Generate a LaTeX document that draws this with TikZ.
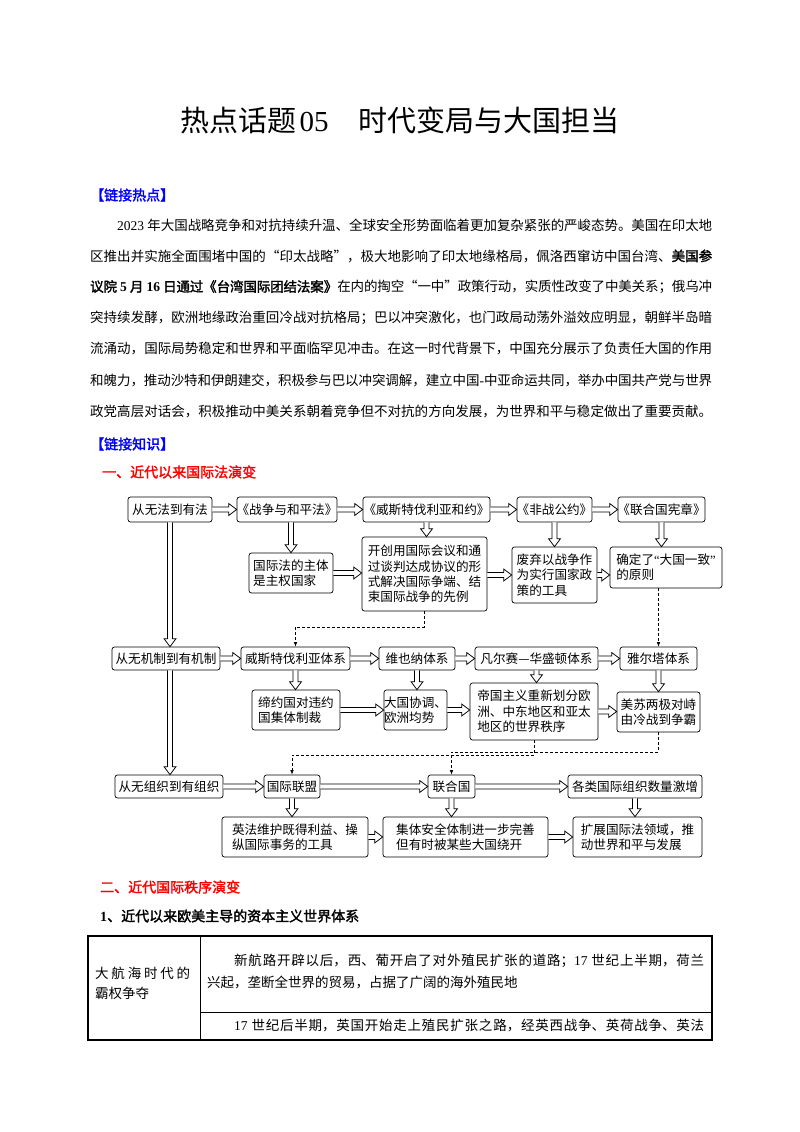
\documentclass[tikz,border=0pt]{standalone}
\usepackage{fontspec}
\setmainfont{Noto Sans CJK SC}[AutoFakeBold=2]
\newfontfamily\tnr{Liberation Serif}
\usetikzlibrary{arrows.meta,calc}
\XeTeXlinebreaklocale "zh"
\XeTeXlinebreakskip=0pt plus 3pt minus 0.5pt
\newcommand\lat[1]{{\tnr #1}}
\newcommand\jline[2]{\parbox{#1}{\parfillskip=0pt\relax #2}}
\newcommand\lbk{\makebox[0.6em][r]{《}}
\newcommand\rbk{\makebox[0.6em][l]{》}}
\newcommand\mybox[6]{\node[box, minimum width={(#3-#2)*1pt}, minimum height={(#5-#4)*1pt}] (#1) at ({(#2+#3)/2},{(#4+#5)/2}) {#6};}
% hollow block arrows between named nodes (right-pointing and downward)
\newcommand\arR[2]{\draw[blk] let \p1=(#1), \p2=(#2) in (\x1,\y1+2.6pt) -- (\x2-8pt,\y1+2.6pt) -- (\x2-8pt,\y1+6pt) -- (\x2,\y1) -- (\x2-8pt,\y1-6pt) -- (\x2-8pt,\y1-2.6pt) -- (\x1,\y1-2.6pt);}
\newcommand\arD[2]{\draw[blk] let \p1=(#1), \p2=(#2) in (\x1-2.6pt,\y1) -- (\x1-2.6pt,\y2+8pt) -- (\x1-6pt,\y2+8pt) -- (\x1,\y2) -- (\x1+6pt,\y2+8pt) -- (\x1+2.6pt,\y2+8pt) -- (\x1+2.6pt,\y1);}
\definecolor{hblue}{RGB}{0,0,255}
\definecolor{hred}{RGB}{255,0,0}
\begin{document}
\begin{tikzpicture}[x=1pt,y=-1pt,
  box/.style={draw, rounded corners=2.5pt, line width=0.7pt, align=left, inner sep=0pt, font=\fontsize{12.6}{15.3}\selectfont},
  blk/.style={draw, fill=white, line width=0.75pt, line join=miter},
  dsh/.style={line width=0.6pt, dash pattern=on 3pt off 2pt, -{Latex[length=4.5pt,width=3.5pt]}},
  txt/.style={anchor=west, inner sep=0pt, font=\fontsize{13.5}{16}\selectfont},
  head/.style={anchor=west, inner sep=0pt, font=\fontsize{14}{16}\selectfont\bfseries},
]
\fill[white] (0,0) rectangle (800,1132);
\useasboundingbox (0,0) rectangle (800,1132);

% title
\node[inner sep=0pt, font=\fontsize{29}{32}\selectfont] (title) at (400,120) {热点话题\hspace{3pt}\lat{05}\hspace{30pt}时代变局与大国担当};

\node[head, text=hblue] (h1) at (90,195) {【链接热点】};
\node[txt] (p1) at (117,225) {\jline{595pt}{\lat{2023 }年大国战略竞争和对抗持续升温、全球安全形势面临着更加复杂紧张的严峻态势。美国在印太地}};
\node[txt] (p2) at (90,256) {\jline{622pt}{区推出并实施全面围堵中国的“印太战略”，极大地影响了印太地缘格局，佩洛西窜访中国台湾、{\bfseries 美国参}}};
\node[txt] (p3) at (90,287) {\jline{622pt}{{\bfseries 议院\lat{ 5 }月\lat{ 16 }日通过《台湾国际团结法案》}在内的掏空“一中”政策行动，实质性改变了中美关系；俄乌冲}};
\node[txt] (p4) at (90,318) {\jline{622pt}{突持续发酵，欧洲地缘政治重回冷战对抗格局；巴以冲突激化，也门政局动荡外溢效应明显，朝鲜半岛暗}};
\node[txt] (p5) at (90,349) {\jline{622pt}{流涌动，国际局势稳定和世界和平面临罕见冲击。在这一时代背景下，中国充分展示了负责任大国的作用}};
\node[txt] (p6) at (90,380) {\jline{622pt}{和魄力，推动沙特和伊朗建交，积极参与巴以冲突调解，建立中国\lat{-}中亚命运共同，举办中国共产党与世界}};
\node[txt] (p7) at (90,411) {\jline{622pt}{政党高层对话会，积极推动中美关系朝着竞争但不对抗的方向发展，为世界和平与稳定做出了重要贡献。}};
\node[head, text=hblue] (h2) at (90,444) {【链接知识】};
\node[head, text=hred] (h3) at (102,472) {一、近代以来国际法演变};

% row 1
\mybox{A1}{128}{212}{497}{522}{从无法到有法}
\mybox{A2}{237}{337}{497}{522}{\lbk 战争与和平法\rbk}
\mybox{A3}{363}{490}{497}{522}{\lbk 威斯特伐利亚和约\rbk}
\mybox{A4}{517}{592}{497}{522}{\lbk 非战公约\rbk}
\mybox{A5}{618}{705}{497}{522}{\lbk 联合国宪章\rbk}
\mybox{B1}{249}{333}{553}{593}{国际法的主体\\是主权国家}
\mybox{B2}{362}{487}{537}{611}{开创用国际会议和通\\过谈判达成协议的形\\式解决国际争端、结\\束国际战争的先例}
\mybox{B3}{512}{597}{547}{603}{废弃以战争作\\为实行国家政\\策的工具}
\mybox{B4}{610}{722}{547}{588}{确定了\lat{“}大国一致\lat{”}\\的原则}
% row 2
\mybox{C1}{112}{220}{647}{670}{从无机制到有机制}
\mybox{C2}{241}{350}{647}{670}{威斯特伐利亚体系}
\mybox{C3}{379}{455}{647}{670}{维也纳体系}
\mybox{C4}{475}{598}{647}{670}{凡尔赛—华盛顿体系}
\mybox{C5}{620}{697}{647}{670}{雅尔塔体系}
\mybox{D1}{252}{340}{690}{730}{缔约国对违约\\国集体制裁}
\mybox{D2}{384}{447}{690}{730}{大国协调、\\欧洲均势}
\mybox{D3}{470}{598}{683}{740}{帝国主义重新划分欧\\洲、中东地区和亚太\\地区的世界秩序}
\mybox{D4}{617}{700}{692}{732}{美苏两极对峙\\由冷战到争霸}
% row 3
\mybox{E1}{115}{223}{775}{798}{从无组织到有组织}
\mybox{E2}{264}{320}{775}{798}{国际联盟}
\mybox{E3}{428}{475}{775}{798}{联合国}
\mybox{E4}{568}{702}{775}{798}{各类国际组织数量激增}
\mybox{F1}{222}{368}{817}{857}{英法维护既得利益、操\\纵国际事务的工具}
\mybox{F2}{383}{548}{817}{857}{集体安全体制进一步完善\\但有时被某些大国绕开}
\mybox{F3}{573}{702}{817}{857}{扩展国际法领域，推\\动世界和平与发展}

% hollow double arrows
\arR{A1.east}{A2.west}
\arR{A2.east}{A3.west}
\arR{A3.east}{A4.west}
\arR{A4.east}{A5.west}
\arD{B1.north |- A2.south}{B1.north}
\arD{A3.south}{B2.north}
\arD{A4.south}{B3.north}
\arD{A5.south}{B4.north}
\arR{B1.east}{B2.west}
\arR{B2.east |- B3}{B3.west}
\arR{B3.east}{B4.west}
\arD{A1.south}{C1.north}
\arD{A1.south |- C1.south}{E1.north}
\arR{C1.east}{C2.west}
\arR{C2.east}{C3.west}
\arR{C3.east}{C4.west}
\arR{C4.east}{C5.west}
\arD{C2.south}{D1.north}
\arD{C3.south}{D2.north}
\arD{C4.south}{D3.north}
\arD{C5.south}{D4.north}
\arR{D1.east}{D2.west}
\arR{D2.east}{D3.west}
\arR{D3.east}{D4.west}
\arR{E1.east}{E2.west}
\arR{E2.east}{E3.west}
\arR{E3.east}{E4.west}
\arD{E2.south}{F1.north}
\arD{E3.south}{F2.north}
\arD{E4.south}{F3.north}
\arR{F1.east}{F2.west}
\arR{F2.east}{F3.west}

% dashed links
\coordinate (k1) at (0,627);
\coordinate (k2) at (0,755);
\coordinate (k3) at (0,752);
\draw[dsh] (B2.south) -- (B2.south |- k1) -| (C2.north);
\draw[dsh] (C5.north |- B4.south) -- (C5.north);
\draw[dsh] (D3.south) -- (D3.south |- k2) -| (E2.north);
\draw[dsh] (D4.south) -- (D4.south |- k3) -| (E3.north);

% section two
\node[head, text=hred] (h4) at (100,887) {二、近代国际秩序演变};
\node[head] (h5) at (100,916) {\lat{1}、近代以来欧美主导的资本主义世界体系};

% table
\draw[line width=1.3pt] (88,936) rectangle (712,1040);
\draw[line width=0.9pt] (200,936) -- (200,1040);
\draw[line width=0.7pt] (200,1012) -- (712,1012);
\node[txt] (t1) at (95,973) {\hbox to 95pt{大\hfill 航\hfill 海\hfill 时\hfill 代\hfill 的}};
\node[txt] (t2) at (95,993) {霸权争夺};
\node[txt] (t3) at (207,961) {\jline{497pt}{\hspace*{27pt}新航路开辟以后，西、葡开启了对外殖民扩张的道路；\lat{17 }世纪上半期，荷兰}};
\node[txt] (t4) at (207,982) {兴起，垄断全世界的贸易，占据了广阔的海外殖民地};
\node[txt] (t5) at (207,1026) {\jline{497pt}{\hspace*{27pt}\lat{17 }世纪后半期，英国开始走上殖民扩张之路，经英西战争、英荷战争、英法}};
\end{tikzpicture}
\end{document}
